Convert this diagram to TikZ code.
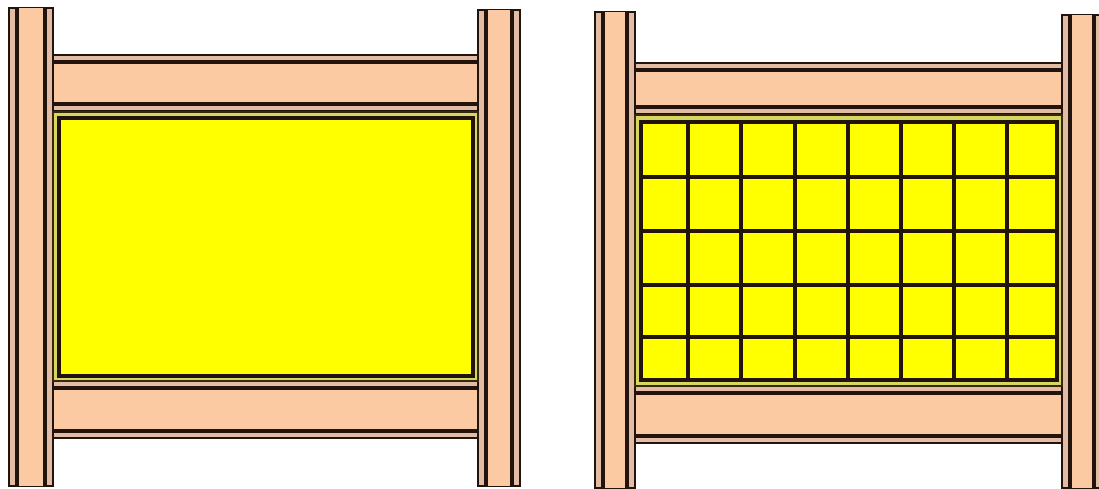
\documentclass[tikz,border=0pt]{standalone}
\usepackage{tikz}

\definecolor{peach}{RGB}{251,202,162}
\definecolor{tan}{RGB}{226,188,164}
\definecolor{edge}{RGB}{34,20,12}
\definecolor{framey}{RGB}{214,214,96}
\definecolor{glassy}{RGB}{255,255,0}

\begin{document}
\begin{tikzpicture}[
  x=1pt, y=-1pt,
  post/.style={fill=tan, draw=edge, line width=1.5pt},
  core/.style={fill=peach},
  groove/.style={draw=edge, line width=3.6pt},
  framebox/.style={fill=framey, draw=edge!80!olive, line width=1.5pt},
  glass/.style={fill=glassy, draw=edge, line width=3.6pt},
  bar/.style={draw=edge, line width=3.2pt},
]
  \useasboundingbox (0,0) rectangle (1099,489);

  % --- Rails (drawn first, posts cover their ends) ---
  % x1/x2/y1/y2
  \foreach \xa/\xb/\ya/\yb in {50/480/55/111, 50/480/381/438,
                               632/1064/63/114, 632/1064/386/443} {
    \draw[post] (\xa,\ya) rectangle (\xb,\yb);
    \fill[core] (\xa,\ya+7) rectangle (\xb,\yb-7);
    \draw[groove] (\xa,\ya+7) -- (\xb,\ya+7);
    \draw[groove] (\xa,\yb-7) -- (\xb,\yb-7);
  }

  % --- Posts ---
  \foreach \xa/\xb/\ya/\yb in {9/53/8/486, 478/520/10/486,
                               595/635/12/488, 1062/1102/15/488} {
    \draw[post] (\xa,\ya) rectangle (\xb,\yb);
    \fill[core] (\xa+8,\ya) rectangle (\xb-8,\yb);
    \draw[groove] (\xa+8,\ya) -- (\xa+8,\yb);
    \draw[groove] (\xb-8,\ya) -- (\xb-8,\yb);
  }

  % --- Left panel: plain sheet ---
  \draw[framebox] (53,112) rectangle (478,381);
  \draw[glass] (59,118) rectangle (473,376);

  % --- Right panel: latticed sheet ---
  \draw[framebox] (635,115) rectangle (1062,386);
  \draw[glass] (641,122) rectangle (1057,380);
  \foreach \x in {688,741,795,848,901,954,1007}
    \draw[bar] (\x,122) -- (\x,380);
  \foreach \y in {177,231,285,337}
    \draw[bar] (641,\y) -- (1057,\y);

\end{tikzpicture}
\end{document}
